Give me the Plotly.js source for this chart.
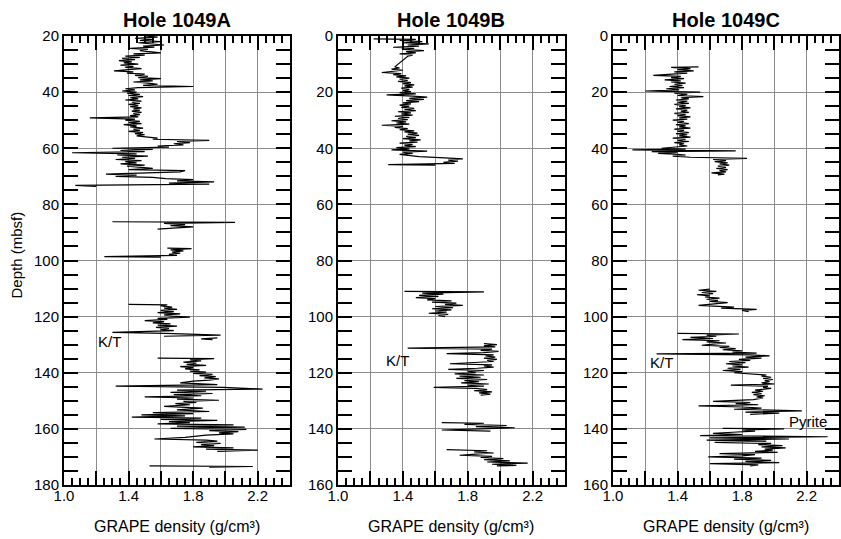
<!DOCTYPE html>
<html>
<head>
<meta charset="utf-8">
<script src="https://cdn.plot.ly/plotly-3.0.1.min.js"></script>
<style>
  html, body { margin: 0; padding: 0; background: #ffffff; }
  #chart { width: 841px; height: 539px; }
</style>
</head>
<body>
<div id="chart"></div>
<script>
// GRAPE bulk density logs, Site 1049 (depth in mbsf, density in g/cm^3).
// null entries mark gaps between recovered core intervals.

const holeNames = ['Hole 1049A', 'Hole 1049B', 'Hole 1049C'];

const depthA = [
  20.0, 20.4, 20.8, 21.2, 21.6, 22.0, 22.4, 22.8, 23.2, 23.6,
  24.0, 24.4, 24.8, 25.2, 25.6, 26.0, 26.4, 26.8, 27.2, 27.6,
  28.0, 28.4, 28.8, 29.2, 29.6, 30.0, 30.4, 30.8, 31.2, 31.6,
  32.0, 32.4, 32.8, 33.2, 33.6, 34.0, 34.4, 34.8, 35.2, 35.6,
  36.0, 36.4, 36.8, 37.2, 37.6, 38.0, 38.4, 38.8, 39.2, 39.6,
  40.0, 40.4, 40.8, 41.2, 41.6, 42.0, 42.4, 42.8, 43.2, 43.6,
  44.0, 44.4, 44.8, 45.2, 45.6, 46.0, 46.4, 46.8, 47.2, 47.6,
  48.0, 48.4, 48.8, 49.2, 49.6, 50.0, 50.4, 50.8, 51.2, 51.6,
  52.0, 52.4, 52.8, 53.2, 53.6, 54.0, 54.4, 54.8, 55.2, 55.6,
  56.0, 56.4, 56.8, 57.2, 57.6, 58.0, 58.4, 58.8, 59.2, 59.6,
  60.0, 60.4, 60.8, 61.2, 61.6, 62.0, 62.4, 62.8, 63.2, 63.6,
  64.0, 64.4, 64.8, 65.2, 65.6, 66.0, 66.4, 66.8, 67.2, 67.6,
  68.0, 68.4, 68.8, 69.2, 69.6, 70.0, 70.4, 70.8, 71.2, 71.6,
  72.0, 72.4, 72.8, 73.2, 73.6, null,
  86.2, 86.4, 86.8, 87.2, 87.6, 88.0, 88.4, 88.8, null,
  95.6, 95.8, 96.2, 96.6, 97.0, 97.4, 97.8, 98.2, 98.6, 98.8, null,
  115.6, 115.8, 116.2, 116.6, 117.0, 117.4, 117.8, 118.2, 118.6, 119.0,
  119.4, 119.8, 120.2, 120.6, 121.0, 121.4, 121.8, 122.2, 122.6, 123.0,
  123.4, 123.8, 124.2, 124.6, 125.0, 125.6, 126.0, 126.6, 127.0, null,
  127.6, 127.9, 128.2, null,
  134.8, 135.0, 135.4, 135.8, 136.2, 136.6, 137.0, 137.4, 137.8, 138.2,
  138.6, 139.0, 139.4, 139.8, 140.2, 140.6, 141.0, 141.4, 141.8, 142.2,
  142.6, 143.0, 143.6, 144.2, 144.8, 145.2, 145.8, 146.2, 146.6, 147.0,
  147.4, 147.8, 148.2, 148.6, 149.0, 149.4, 149.8, 150.2, 150.6, 151.0,
  151.4, 152.0, 152.6, 153.2, 153.8, 154.2, 154.6, 155.0, 155.4, 155.8,
  156.2, 156.6, 157.0, 157.4, 157.8, 158.2, 158.6, 159.0, 159.4, 159.8,
  160.2, 160.6, 161.0, 161.4, 161.8, 162.2, 163.0, 163.6, 164.0, 164.4,
  164.8, 165.2, 165.6, 166.0, 166.4, 166.8, 167.2, 167.6, 168.0, null,
  173.2, 173.4, 173.6
];
const densityA = [
  1.50, 1.58, 1.44, 1.55, 1.47, 1.60, 1.46, 1.53, 1.62, 1.49,
  1.56, 1.41, 1.52, 1.47, 1.55, 1.60, 1.43, 1.50, 1.38, 1.47,
  1.36, 1.44, 1.34, 1.42, 1.37, 1.46, 1.35, 1.43, 1.38, 1.48,
  1.40, 1.31, 1.43, 1.39, 1.50, 1.44, 1.52, 1.46, 1.60, 1.47,
  1.55, 1.43, 1.52, 1.58, 1.49, 1.80, 1.46, 1.38, 1.44, 1.36,
  1.45, 1.39, 1.47, 1.40, 1.49, 1.41, 1.46, 1.38, 1.48, 1.42,
  1.47, 1.40, 1.46, 1.41, 1.48, 1.43, 1.47, 1.42, 1.48, 1.43,
  1.47, 1.41, 1.46, 1.16, 1.44, 1.38, 1.47, 1.40, 1.48, 1.37,
  1.45, 1.41, 1.49, 1.43, 1.47, 1.40, 1.49, 1.44, 1.50, 1.45,
  1.52, 1.58, 1.55, 1.90, 1.70, 1.78, 1.68, 1.74, 1.58, 1.65,
  1.30, 1.55, 1.35, 1.50, 1.05, 1.45, 1.33, 1.52, 1.36, 1.44,
  1.32, 1.48, 1.38, 1.45, 1.35, 1.50, 1.39, 1.46, 1.55, 1.40,
  1.75, 1.72, 1.50, 1.26, 1.45, 1.32, 1.55, 1.63, 1.80, 1.70,
  1.93, 1.65, 1.90, 1.07, 1.20, null,
  1.30, 2.06, 1.62, 1.75, 1.66, 1.80, 1.70, 1.58, null,
  1.64, 1.79, 1.66, 1.74, 1.67, 1.72, 1.65, 1.70, 1.25, 1.60, null,
  1.40, 1.64, 1.60, 1.67, 1.62, 1.70, 1.60, 1.68, 1.58, 1.72,
  1.62, 1.67, 1.78, 1.58, 1.64, 1.50, 1.62, 1.55, 1.66, 1.58,
  1.70, 1.57, 1.65, 1.60, 1.68, 1.30, 1.63, 1.97, 1.62, null,
  1.95, 1.85, 1.92, null,
  1.58, 1.93, 1.78, 1.85, 1.74, 1.82, 1.76, 1.88, 1.72, 1.80,
  1.75, 1.84, 1.78, 1.88, 1.80, 1.92, 1.84, 1.94, 1.87, 1.96,
  1.90, 1.80, 1.72, 1.95, 1.32, 1.99, 2.23, 1.70, 1.88, 1.66,
  1.92, 1.68, 1.85, 1.50, 1.80, 1.70, 1.96, 1.74, 1.82, 1.69,
  1.78, 1.62, 1.86, 1.70, 1.90, 1.55, 1.80, 1.48, 1.75, 1.42,
  1.85, 1.60, 1.95, 1.65, 1.78, 1.58, 2.05, 1.70, 2.12, 1.66,
  2.13, 1.90, 2.08, 1.96, 2.05, 1.88, 1.75, 1.56, 1.88, 1.95,
  1.82, 1.97, 1.85, 1.93, 1.80, 2.05, 1.88, 2.20, 1.95, null,
  1.53, 2.17, 1.90
];

const depthB = [
  1.0, 1.2, 1.6, 2.0, 2.4, 2.8, 3.2, 3.6, 4.0, 4.4,
  4.8, 5.2, 5.6, 6.0, 6.4, 6.8, 7.2,
  11.0, 11.4, 11.8, 12.2, 12.6, 13.0, 13.4, 13.8, 14.2, 14.6,
  15.0, 15.4, 15.8, 16.2, 16.6, 17.0, 17.4, 17.8, 18.2, 18.6,
  19.0, 19.4, 19.8, 20.2, 20.6, 21.0, 21.4, 21.8, 22.2, 22.6,
  23.0, 23.4, 23.8, 24.2, 24.6, 25.0, 25.4, 25.8, 26.2, 26.6,
  27.0, 27.4, 27.8, 28.2, 28.6, 29.0, 29.4, 29.8, 30.2, 30.6,
  31.0, 31.4, 31.8, 32.2, 32.6, 33.0, 33.4, 33.8, 34.2, 34.6,
  35.0, 35.4, 35.8, 36.2, 36.6, 37.0, 37.4, 37.8, 38.2, 38.6,
  39.0, 39.4, 39.8, 40.2, 40.6, 41.0, 41.4, 41.8, 42.2, 42.6,
  43.0, 43.4, 43.8, 44.2, 44.6, 45.0, 45.4, 45.8, 46.0, null,
  91.0, 91.2, 91.6, 92.0, 92.4, 92.8, 93.2, 93.6, 94.0, 94.4,
  94.8, 95.2, 95.6, 96.0, 96.4, 96.8, 97.2, 97.6, 98.0, 98.4,
  98.8, 99.2, 99.6, 100.0, null,
  109.6, 110.0, 110.4, 110.8, 111.2, 111.6, 112.0, 112.4, 112.8, 113.2,
  113.6, 114.0, 114.4, 114.8, 115.2, 115.6, 116.0, 116.4, 116.8, 117.2,
  117.6, 118.0, 118.4, 118.8, 119.2, 119.6, 120.0, 120.4, 120.8, 121.2,
  121.6, 122.0, 122.4, 122.8, 123.2, 123.6, 124.0, 124.4, 124.8, 125.2,
  125.6, 126.0, 126.4, 126.8, 127.2, 127.6, 128.0, null,
  137.8, 138.0, 138.4, 138.8, 139.2, 139.6, 140.0, 140.4, 140.8, null,
  147.4, 147.8, 148.2, 148.6, 149.0, 149.4, 149.8, 150.2, 150.6, 151.0,
  151.4, 151.8, 152.2, 152.6, 153.0, 153.2
];
const densityB = [
  1.22, 1.48, 1.38, 1.52, 1.40, 1.56, 1.43, 1.50, 1.34, 1.47,
  1.40, 1.53, 1.42, 1.48, 1.38, 1.46, 1.43,
  1.35, 1.38, 1.33, 1.40, 1.35, 1.27, 1.39, 1.34, 1.42, 1.36,
  1.44, 1.38, 1.43, 1.37, 1.45, 1.40, 1.47, 1.41, 1.46, 1.39,
  1.44, 1.40, 1.45, 1.38, 1.48, 1.30, 1.46, 1.55, 1.44, 1.53,
  1.42, 1.50, 1.40, 1.45, 1.38, 1.44, 1.39, 1.47, 1.41, 1.48,
  1.37, 1.45, 1.39, 1.46, 1.35, 1.44, 1.37, 1.43, 1.33, 1.42,
  1.36, 1.44, 1.27, 1.40, 1.35, 1.43, 1.38, 1.47, 1.41, 1.49,
  1.43, 1.50, 1.42, 1.48, 1.40, 1.51, 1.44, 1.49, 1.38, 1.46,
  1.41, 1.48, 1.36, 1.44, 1.33, 1.55, 1.40, 1.46, 1.38, 1.44,
  1.50, 1.66, 1.77, 1.68, 1.74, 1.65, 1.72, 1.31, 1.60, null,
  1.41, 1.90, 1.52, 1.65, 1.50, 1.62, 1.48, 1.60, 1.55, 1.70,
  1.58, 1.73, 1.66, 1.77, 1.60, 1.71, 1.58, 1.70, 1.60, 1.67,
  1.56, 1.68, 1.62, 1.66, null,
  1.90, 1.98, 1.90, 1.97, 1.43, 1.95, 1.88, 1.99, 1.90, 1.67,
  1.96, 1.91, 1.97, 1.90, 1.98, 1.92, 1.96, 1.85, 1.69, 1.95,
  1.90, 1.96, 1.86, 1.68, 1.90, 1.80, 1.85, 1.72, 1.90, 1.75,
  1.88, 1.73, 1.92, 1.78, 1.87, 1.76, 1.93, 1.80, 1.90, 1.59,
  1.85, 1.92, 1.84, 1.95, 1.87, 1.94, 1.88, null,
  1.64, 1.90, 1.78, 2.04, 1.85, 2.09, 1.88, 1.64, 1.94, null,
  1.67, 1.92, 1.84, 1.96, 1.85, 1.75, 1.95, 1.88, 2.02, 1.90,
  2.06, 1.92, 2.17, 1.95, 2.10, 1.98
];

const depthC = [
  11.0, 11.2, 11.6, 12.0, 12.4, 12.8, 13.2, 13.6, 14.0, 14.4,
  14.8, 15.2, 15.6, 16.0, 16.4, 16.8, 17.2, 17.6, 18.0, 18.4,
  18.8, 19.2, 19.6, 20.0, 20.4, 20.8, 21.2, 21.6, 22.0, 22.4,
  22.8, 23.2, 23.6, 24.0, 24.4, 24.8, 25.2, 25.6, 26.0, 26.4,
  26.8, 27.2, 27.6, 28.0, 28.4, 28.8, 29.2, 29.6, 30.0, 30.4,
  30.8, 31.2, 31.6, 32.0, 32.4, 32.8, 33.2, 33.6, 34.0, 34.4,
  34.8, 35.2, 35.6, 36.0, 36.4, 36.8, 37.2, 37.6, 38.0, 38.4,
  38.8, 39.2, 39.6, 40.0, 40.3, 40.6, 40.9, 41.2, 41.5, 41.8,
  42.1, 42.4, 42.8, 43.2, 43.6, 44.0, 44.4, 44.8, 45.2, 45.6,
  46.0, 46.4, 46.8, 47.2, 47.6, 48.0, 48.4, 48.8, 49.2, 49.5, null,
  90.2, 90.6, 91.0, 91.4, 91.8, 92.2, 92.6, 93.0, 93.4, 93.8,
  94.2, 94.6, 95.0, 95.4, 96.0, 96.6, 97.0, 97.4, 97.8, 98.2, null,
  106.0, 106.2, 106.6, 107.0, 107.4, 107.8, 108.2, 108.6, 109.0, 109.4,
  109.8, 110.2, 110.6, 111.0, 111.4, 111.8, 112.2, 112.6, 113.0, 113.3,
  113.6, 114.0, 114.4, 114.8, 115.2, 115.6, 116.0, 116.4, 116.8, 117.2,
  117.6, 118.0, 118.4, 118.8, 119.2, 119.6, 120.0, 120.8, 121.2, 121.6,
  122.0, 122.4, 122.8, 123.2, 123.6, 124.0, 124.4, 124.8, 125.2, 125.6,
  126.2, 126.6, 127.0, 127.4, 127.8, 128.2, 128.6, 129.0, 129.6, 130.2,
  130.6, 131.0, 131.4, 131.8, 132.2, 132.6, 133.0, 133.6, 134.0, 134.4,
  134.8, null,
  139.8, 140.0, 140.4, 140.8, 141.2, 141.6, 142.0, 142.4, 142.8, 143.2,
  143.6, 144.0, 144.4, 144.8, 145.2, 145.6, 146.0, 146.4, 146.8, 147.2,
  147.6, 148.0, 148.4, 148.8, 149.2, 149.6, 150.0, 150.4, 150.8, 151.2,
  151.6, 152.0, 152.4, 152.8, 153.2
];
const densityC = [
  1.53, 1.36, 1.48, 1.40, 1.50, 1.38, 1.46, 1.33, 1.25, 1.42,
  1.36, 1.44, 1.32, 1.42, 1.36, 1.45, 1.38, 1.43, 1.35, 1.44,
  1.33, 1.41, 1.20, 1.54, 1.38, 1.46, 1.40, 1.56, 1.42, 1.47,
  1.39, 1.46, 1.40, 1.47, 1.38, 1.45, 1.41, 1.48, 1.39, 1.46,
  1.42, 1.47, 1.38, 1.45, 1.40, 1.48, 1.41, 1.46, 1.37, 1.44,
  1.40, 1.47, 1.39, 1.45, 1.41, 1.48, 1.38, 1.44, 1.40, 1.47,
  1.39, 1.46, 1.41, 1.48, 1.37, 1.45, 1.40, 1.47, 1.38, 1.44,
  1.41, 1.46, 1.40, 1.30, 1.45, 1.12, 1.76, 1.24, 1.40, 1.28,
  1.38, 1.45, 1.37, 1.48, 1.83, 1.62, 1.70, 1.63, 1.71, 1.66,
  1.72, 1.65, 1.70, 1.64, 1.71, 1.66, 1.70, 1.61, 1.69, 1.65, null,
  1.60, 1.53, 1.64, 1.55, 1.62, 1.52, 1.60, 1.57, 1.66, 1.58,
  1.65, 1.60, 1.71, 1.63, 1.53, 1.75, 1.67, 1.89, 1.80, 1.84, null,
  1.40, 1.78, 1.58, 1.64, 1.48, 1.62, 1.43, 1.66, 1.58, 1.70,
  1.62, 1.55, 1.72, 1.66, 1.76, 1.68, 1.80, 1.74, 1.89, 1.27,
  1.85, 1.97, 1.82, 1.92, 1.78, 1.85, 1.72, 1.82, 1.70, 1.80,
  1.74, 1.84, 1.71, 1.79, 1.68, 1.80, 1.75, 1.95, 1.92, 1.98,
  1.93, 1.99, 1.94, 1.97, 1.92, 2.00, 1.73, 1.96, 1.93, 1.98,
  1.88, 1.93, 1.86, 1.92, 1.87, 1.94, 1.89, 1.93, 1.87, 1.62,
  1.85, 1.76, 1.90, 1.53, 1.80, 1.92, 1.75, 2.17, 1.82, 2.03,
  1.85, null,
  1.68, 2.06, 1.80, 1.88, 1.74, 1.62, 1.80, 1.54, 2.33, 1.60,
  2.09, 1.58, 1.95, 1.63, 1.98, 1.90, 2.05, 1.92, 2.07, 1.94,
  1.99, 1.88, 2.02, 1.66, 1.88, 1.80, 1.59, 1.92, 1.75, 1.98,
  1.82, 2.03, 1.60, 1.90, 1.85
];

const depths = [depthA, depthB, depthC];
const densities = [densityA, densityB, densityC];
const depthRanges = [[180, 20], [160, 0], [160, 0]];

// grid/tick positions every 0.2, labels every 0.4
const densityGridVals = [1.0, 1.2, 1.4, 1.6, 1.8, 2.0, 2.2, 2.4];
const densityLabelVals = [1.0, 1.4, 1.8, 2.2];
const densityLabelText = ['1.0', '1.4', '1.8', '2.2'];

const markerLabels = [
  { panel: 0, text: 'K/T', density: 1.28, depth: 129 },
  { panel: 1, text: 'K/T', density: 1.37, depth: 115.5 },
  { panel: 2, text: 'K/T', density: 1.30, depth: 116.5 },
  { panel: 2, text: 'Pyrite', density: 2.21, depth: 137.5 }
];

const FONT = 'Liberation Sans, Arial, Helvetica, sans-serif';
const domains = [[0.0761, 0.3448], [0.4019, 0.6718], [0.7289, 0.9976]];

const traces = [];
const layout = {
  width: 841, height: 539,
  margin: { l: 0, r: 0, t: 36, b: 54 },
  paper_bgcolor: '#ffffff', plot_bgcolor: '#ffffff',
  showlegend: false,
  font: { family: FONT, color: '#000000', size: 15 },
  annotations: []
};

for (let i = 0; i < 3; i++) {
  const sfx = i === 0 ? '' : String(i + 1);
  const lblSfx = String(i + 4);
  traces.push({
    type: 'scatter', mode: 'lines',
    x: densities[i], y: depths[i],
    xaxis: 'x' + sfx, yaxis: 'y' + sfx,
    connectgaps: false,
    line: { color: '#000000', width: 1.2 },
    hoverinfo: 'skip'
  });

  // frame axis: gridlines, major and minor ticks on all four sides
  layout['xaxis' + sfx] = {
    domain: domains[i], anchor: 'y' + sfx,
    range: [1.0, 2.4],
    tickmode: 'array', tickvals: densityGridVals,
    showticklabels: false,
    ticks: 'inside', ticklen: 14, tickwidth: 2, tickcolor: '#000000',
    mirror: 'allticks', showline: true, linewidth: 2, linecolor: '#000000',
    showgrid: true, gridcolor: '#8c8c8c', gridwidth: 1, zeroline: false,
    minor: { tickmode: 'linear', tick0: 1.0, dtick: 0.05, ticks: 'inside',
             ticklen: 7, tickwidth: 2, tickcolor: '#000000', showgrid: false },
    fixedrange: true
  };
  // label-only axis sharing the same scale
  layout['xaxis' + lblSfx] = {
    overlaying: 'x' + sfx, anchor: 'y' + sfx, side: 'bottom',
    range: [1.0, 2.4],
    tickmode: 'array', tickvals: densityLabelVals, ticktext: densityLabelText,
    ticks: '', showline: false, showgrid: false, zeroline: false,
    tickfont: { family: FONT, size: 15, color: '#000000' },
    fixedrange: true
  };
  layout['yaxis' + sfx] = {
    domain: [0, 1], anchor: 'x' + sfx,
    range: depthRanges[i],
    tickmode: 'linear', tick0: 0, dtick: 20,
    ticks: 'inside', ticklen: 14, tickwidth: 2, tickcolor: '#000000',
    mirror: 'allticks', showline: true, linewidth: 2, linecolor: '#000000',
    showgrid: true, gridcolor: '#8c8c8c', gridwidth: 1, zeroline: false,
    minor: { tickmode: 'linear', tick0: 0, dtick: 5, ticks: 'inside',
             ticklen: 8, tickwidth: 2, tickcolor: '#000000', showgrid: false },
    tickfont: { family: FONT, size: 15, color: '#000000' },
    fixedrange: true
  };

  // panel title
  layout.annotations.push({
    text: holeNames[i],
    xref: 'x' + sfx + ' domain', x: 0.5, xanchor: 'center',
    yref: 'paper', y: 1, yanchor: 'bottom', yshift: 3,
    showarrow: false,
    font: { family: FONT, size: 20, color: '#000000', weight: 'bold' }
  });
  // x-axis title
  layout.annotations.push({
    text: 'GRAPE density (g/cm\u00B3)',
    xref: 'x' + sfx + ' domain', x: 0.5, xanchor: 'center',
    yref: 'paper', y: 0, yanchor: 'middle', yshift: -41,
    showarrow: false, font: { family: FONT, size: 16, color: '#000000' }
  });
}

// invisible carrier traces so the label-only axes are drawn
for (let i = 0; i < 3; i++) {
  const sfx = i === 0 ? '' : String(i + 1);
  traces.push({
    type: 'scatter', mode: 'lines', x: [], y: [],
    xaxis: 'x' + String(i + 4), yaxis: 'y' + sfx,
    hoverinfo: 'skip', showlegend: false
  });
}

// y-axis title (shared)
layout.annotations.push({
  text: 'Depth (mbsf)', textangle: -90,
  xref: 'paper', x: 16 / 841, xanchor: 'center',
  yref: 'paper', y: 0.5, yanchor: 'middle', yshift: 5,
  showarrow: false, font: { family: FONT, size: 15, color: '#000000' }
});

// boundary / lithology labels inside panels
markerLabels.forEach(function (m) {
  const sfx = m.panel === 0 ? '' : String(m.panel + 1);
  layout.annotations.push({
    text: m.text, xref: 'x' + sfx, yref: 'y' + sfx,
    x: m.density, y: m.depth, xanchor: 'center', yanchor: 'middle',
    showarrow: false, font: { family: FONT, size: 15, color: '#000000' }
  });
});

Plotly.newPlot('chart', traces, layout, { staticPlot: true, displayModeBar: false });
</script>
</body>
</html>
